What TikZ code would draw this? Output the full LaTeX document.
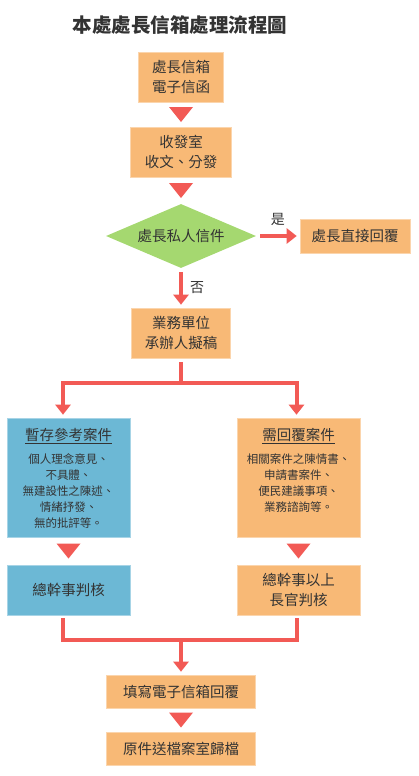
\documentclass[tikz,border=0pt]{standalone}
\usepackage{fontspec}
\setmainfont{Noto Sans CJK TC}
\usetikzlibrary{arrows.meta,positioning,shapes.geometric}
\definecolor{boxorange}{HTML}{F8B976}
\definecolor{boxblue}{HTML}{6CB8D5}
\definecolor{boxgreen}{HTML}{A5D870}
\definecolor{flowred}{HTML}{F25A55}
\definecolor{ink}{HTML}{333333}

\begin{document}
\begin{tikzpicture}[
    x=1pt, y=-1pt,
    font=\fontsize{14.5}{19.5}\selectfont, text=ink,
    box/.style={rectangle, fill=boxorange, draw=boxorange!60!white, line width=0.6pt,
                align=center, inner sep=0pt},
    orange box/.style={box},
    blue box/.style={box, fill=boxblue, draw=boxblue!60!white},
    decision/.style={diamond, aspect=2.3, fill=boxgreen, inner sep=0pt,
                     minimum width=150pt, minimum height=64pt},
    % thick red connectors, tip stops just short of the box
    flow/.style={draw=flowred, line width=4pt, shorten <=4pt, shorten >=3pt,
                 -{Triangle[width=15pt,length=10pt]}},
    flowline/.style={draw=flowred, line width=4pt, shorten <=3pt, shorten >=3pt},
    % the free-standing triangles between stacked boxes
    drop/.style={rectangle, minimum width=24pt, minimum height=15pt, inner sep=0pt,
      path picture={\fill[flowred] (path picture bounding box.north west)
        -- (path picture bounding box.north east) -- (path picture bounding box.south) -- cycle;}},
    headline/.style={font=\fontsize{14.5}{19.5}\selectfont, inner sep=0pt},
    detail/.style={font=\fontsize{11.5}{16}\selectfont, align=center, inner sep=0pt},
    title/.style={font=\fontsize{19.5}{24}\selectfont\bfseries},
    tag/.style={font=\fontsize{14}{16}\selectfont, inner sep=0pt},
  ]
  \useasboundingbox (0,0) rectangle (418,776);

  % ------------------------------------------------------------------ top: intake
  \node[title] (title) at (180,25) {本處處長信箱處理流程圖};
  \node[orange box, minimum width=85pt, minimum height=50pt] (mail) at (181,77)
    {處長信箱\\電子信函};
  \node[orange box, minimum width=101pt, minimum height=50pt] (recv) at (181,152)
    {收發室\\收文、分發};
  \node[decision] (private) at (181,236) {處長私人信件};
  \node[orange box, minimum width=110pt, minimum height=34pt] (direct) at (355,236)
    {處長直接回覆};
  \node[orange box, minimum width=99pt, minimum height=50pt] (work) at (181,333)
    {業務單位\\承辦人擬稿};

  \draw[flow] (private) -- (direct) node[midway, above=8pt, tag] (yes) {是};
  \draw[flow] (private) -- (work) node[midway, right=7pt, tag] (no) {否};

  % ------------------------------------------------------------------ middle: two kinds of case
  \node[blue box, minimum width=123pt, minimum height=119pt] (keep) at (68.5,477.5) {};
  \node[headline] (keep-h) at ([yshift=-18pt]keep.north) {\underline{暫存參考案件}};
  \node[detail, anchor=north] (keep-d) at ([yshift=-36pt]keep.north)
    {個人理念意見、\\不具體、\\無建設性之陳述、\\情緒抒發、\\無的批評等。};

  \node[orange box, minimum width=123pt, minimum height=119pt] (need) at (298.5,477.5) {};
  \node[headline] (need-h) at ([yshift=-18pt]need.north) {\underline{需回覆案件}};
  \node[detail, anchor=north] (need-d) at ([yshift=-36pt]need.north)
    {相關案件之陳情書、\\申請書案件、\\便民建議事項、\\業務諮詢等。};

  \node[blue box, minimum width=123pt, minimum height=50pt] (judge-a) at (68.5,590)
    {總幹事判核};
  \node[orange box, minimum width=123pt, minimum height=50pt] (judge-b) at (298.5,590)
    {總幹事以上\\長官判核};

  \coordinate (split) at (181,383);
  \draw[flow] (work.south) -- (split) -| ([xshift=-5.5pt]keep.north);
  \draw[flow, shorten <=0pt] (split) -| ([xshift=-2pt]need.north);

  % ------------------------------------------------------------------ bottom: reply + archive
  \node[orange box, minimum width=149pt, minimum height=33pt] (fill) at (181,691.5)
    {填寫電子信箱回覆};
  \node[orange box, minimum width=149pt, minimum height=33pt] (archive) at (181,748.5)
    {原件送檔案室歸檔};

  \coordinate (merge) at (181,640);
  \draw[flowline] ([xshift=-5.5pt]judge-a.south) |- (merge) -| ([xshift=-2pt]judge-b.south);
  \draw[flow, shorten <=0pt] (merge) -- (fill.north);

  \foreach \a/\b [count=\i] in {mail/recv, recv/private, keep/judge-a, need/judge-b, fill/archive}
    \path (\a.south) -- node[drop] (drop\i) {} (\b.north);

\end{tikzpicture}
\end{document}
